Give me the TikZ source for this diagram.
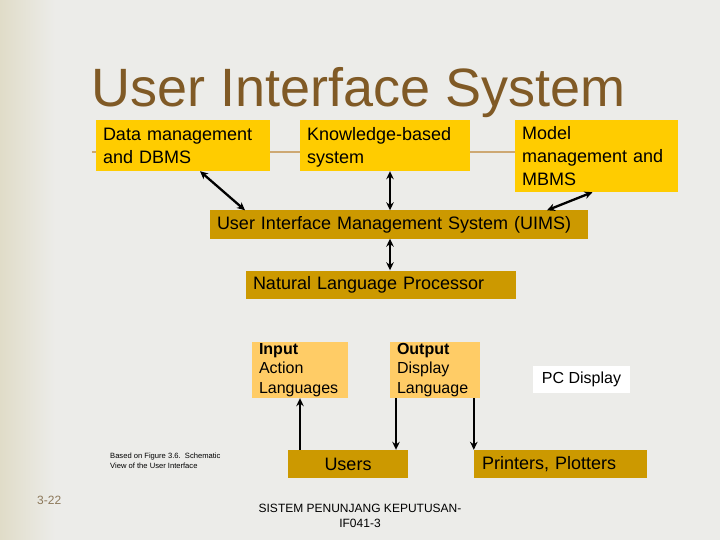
\documentclass[tikz,border=0pt]{standalone}
\usepackage{fontspec}
\setmainfont{Liberation Sans}
\usetikzlibrary{arrows.meta}

\definecolor{titleBrown}{RGB}{128,90,38}
\definecolor{boxYellow}{RGB}{255,204,0}
\definecolor{boxGold}{RGB}{204,153,0}
\definecolor{boxPeach}{RGB}{255,204,102}
\definecolor{bgGray}{RGB}{236,236,233}
\definecolor{bgBeige}{RGB}{224,220,200}
\definecolor{lineTan}{RGB}{205,168,115}
\definecolor{pageNum}{RGB}{140,120,90}

\begin{document}
\begin{tikzpicture}[x=1pt,y=-1pt,
		topbox/.style={rectangle, fill=boxYellow, inner xsep=7pt, inner ysep=0pt, align=left, font=\fontsize{18}{23}\selectfont},
		barbox/.style={rectangle, fill=boxGold, inner xsep=7pt, inner ysep=0pt, minimum height=28pt, font=\fontsize{18}{22}\selectfont},
		langbox/.style={rectangle, fill=boxPeach, inner xsep=7pt, inner ysep=0pt, align=left, minimum height=56pt, font=\fontsize{16}{19.5}\selectfont},
		link/.style={line width=2.3pt, {Stealth[length=8pt,width=7.5pt]}-{Stealth[length=8pt,width=7.5pt]}},
		flow/.style={line width=2.3pt, -{Stealth[length=8pt,width=7.5pt]}}
		]
		
		% Background
		
		\fill[bgGray] (0,0) rectangle (720,540);
		\shade[left color=bgBeige, right color=bgGray] (0,0) rectangle (55,540);
		\useasboundingbox (0,0) rectangle (720,540);
		
		\node[anchor=base west, inner sep=0pt, text=titleBrown, font=\fontsize{54}{60}\selectfont] 
		(title) at (91,107) {User Interface System};
		
		\coordinate (lineStart) at (92,152);
		
		% Top row
		
		\node[topbox, text width=160pt, minimum height=51pt] 
		(dbms) at (183,145.5) {Data management\\and DBMS};
		
		\node[topbox, text width=156pt, minimum height=51pt] 
		(kbs) at (385,145.5) {Knowledge-based\\\raisebox{0pt}[\height][0pt]{system}};
		
		\node[topbox, text width=149pt, minimum height=72pt] 
		(mbms) at (596.5,156) {Model\\management and\\MBMS};
		
		% Middle
		
		\node[barbox, text width=364pt, align=left] 
		(uims) at (399,224.5) {User Interface Management System (UIMS)};
		
		\node[barbox, text width=256pt, align=left] 
		(nlp) at (381,284.5) {Natural Language Processor};
		
		\node[langbox, text width=82pt] 
		(input) at (300,370) {\textbf{Input}\\Action\\Languages};
		
		\node[langbox, text width=76pt] 
		(output) at (435,370) {\textbf{Output}\\Display\\Language};
		
		\node[rectangle, fill=white, minimum width=97pt, minimum height=27pt, font=\fontsize{16}{19}\selectfont] 
		(pcDisplay) at (581.5,379.5) {PC Display};
		
		\node[barbox, text width=106pt, align=center] 
		(users) at (348,464) {Users};
		
		\node[barbox, inner xsep=8pt, text width=157pt, align=left] 
		(printers) at (560.5,464) {Printers, Plotters};
		
		% Lines
		
		\draw[lineTan, line width=1.5pt] (lineStart) -- (lineStart -| dbms.west);
		\draw[lineTan, line width=1.5pt] (lineStart -| dbms.east) -- (lineStart -| kbs.west);
		\draw[lineTan, line width=1.5pt] (lineStart -| kbs.east) -- (lineStart -| mbms.west);
		
		\draw[link] ([xshift=17pt]dbms.south) -- ([xshift=-154pt]uims.north);
		
		\draw[link] ([xshift=5pt]kbs.south) -- ([xshift=-9pt]uims.north);
		
		\draw[link] ([xshift=-4pt]mbms.south) -- ([xshift=148pt]uims.north);
		
		\draw[link] ([xshift=-9pt]uims.south) -- ([xshift=9pt]nlp.north);
		
		\draw[flow] (users.north -| input.south) -- (input.south);
		
		\draw[flow] ([xshift=-39pt]output.south) -- ([xshift=-39pt]output.south |- users.north);
		
		\draw[flow] (printers.north west |- output.south) -- (printers.north west);
		
		% Notes
		
		\node[anchor=north west, inner sep=0pt, align=left, font=\fontsize{7.6}{10}\selectfont] 
		(source) at (110,453) {Based on Figure 3.6.\ \ Schematic\\View of the User Interface};
		
		\node[anchor=base west, inner sep=0pt, text=pageNum, font=\fontsize{12}{14}\selectfont] 
		(pageNo) at (37,504) {3-22};
		
		\node[align=center, inner sep=0pt, font=\fontsize{12}{15}\selectfont] 
		(footer) at (360,515.5) {SISTEM PENUNJANG KEPUTUSAN-\\IF041-3};
		
	\end{tikzpicture}
\end{document}
